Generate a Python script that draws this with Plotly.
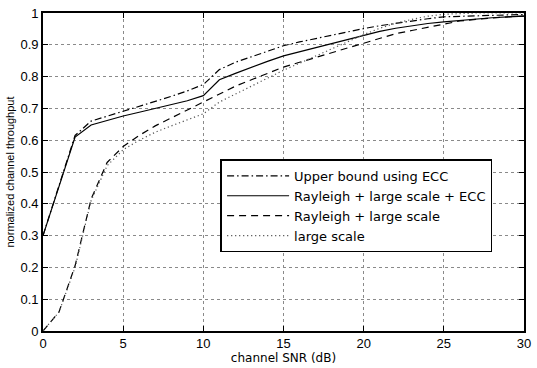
import plotly.graph_objects as go

# channel SNR in dB
snr_db = list(range(0, 31))

upper_bound_ecc = [0.30, 0.46, 0.615, 0.66, 0.675, 0.69, 0.706, 0.722, 0.738, 0.755,
                   0.775, 0.822, 0.845, 0.862, 0.880, 0.897, 0.909, 0.920, 0.930, 0.940,
                   0.951, 0.960, 0.968, 0.975, 0.982, 0.988, 0.990, 0.992, 0.993, 0.994,
                   0.995]
rayleigh_large_ecc = [0.30, 0.455, 0.61, 0.648, 0.663, 0.676, 0.688, 0.700, 0.712, 0.724,
                      0.740, 0.790, 0.810, 0.830, 0.848, 0.865, 0.878, 0.892, 0.905, 0.918,
                      0.930, 0.942, 0.952, 0.960, 0.967, 0.972, 0.977, 0.981, 0.985, 0.988,
                      0.990]
rayleigh_large = [0.0, 0.06, 0.205, 0.415, 0.53, 0.58, 0.615, 0.645, 0.67, 0.695,
                  0.720, 0.745, 0.770, 0.790, 0.810, 0.830, 0.845, 0.860, 0.875, 0.890,
                  0.905, 0.920, 0.935, 0.945, 0.955, 0.965, 0.975, 0.980, 0.985, 0.988,
                  0.990]
large_scale = [0.0, 0.06, 0.20, 0.41, 0.52, 0.57, 0.60, 0.625, 0.645, 0.665,
               0.683, 0.720, 0.745, 0.770, 0.795, 0.820, 0.842, 0.865, 0.888, 0.910,
               0.932, 0.952, 0.968, 0.980, 0.990, 0.996, 0.999, 1.0, 1.0, 1.0,
               1.0]

series = [
    ("Upper bound using ECC", upper_bound_ecc, "7px,3px,1.5px,3px", "black"),
    ("Rayleigh + large scale + ECC", rayleigh_large_ecc, "solid", "black"),
    ("Rayleigh + large scale", rayleigh_large, "7px,5px", "black"),
    ("large scale", large_scale, "1.2px,2.8px", "#555555"),
]

fig = go.Figure()
for name, vals, dash, color in series:
    fig.add_trace(go.Scatter(
        x=snr_db, y=vals, mode="lines", name=name,
        line=dict(color=color, width=1.2, dash=dash),
    ))

axis_common = dict(
    showline=True, linecolor="black", linewidth=1.6, mirror="ticks",
    ticks="inside", ticklen=5, tickcolor="black", tickwidth=1,
    showgrid=True, gridcolor="#8a8a8a", griddash="dot", gridwidth=1,
    zeroline=False, tickfont=dict(size=13, color="black"),
)

fig.update_layout(
    width=537, height=368,
    margin=dict(l=43, r=6, t=9, b=32),
    paper_bgcolor="white", plot_bgcolor="white",
    font=dict(family="Liberation Sans, Arial, sans-serif", color="black"),
    xaxis=dict(range=[0, 30], tickvals=[0, 5, 10, 15, 20, 25, 30],
               title=dict(text="channel SNR (dB)",
                          font=dict(size=12, family="DejaVu Sans"), standoff=2),
               **axis_common),
    yaxis=dict(range=[0, 1], tickvals=[i / 10 for i in range(11)],
               ticktext=["0", "0.1", "0.2", "0.3", "0.4", "0.5", "0.6", "0.7", "0.8", "0.9", "1"],
               title=dict(text="normalized channel throughput", font=dict(size=11), standoff=4),
               **axis_common),
    legend=dict(
        x=0.369, y=0.54, xanchor="left", yanchor="top",
        bgcolor="white", bordercolor="black", borderwidth=1.6,
        font=dict(size=13, family="DejaVu Sans"), tracegroupgap=0, itemwidth=62,
    ),
    showlegend=True,
)

fig.write_html("out.html")
